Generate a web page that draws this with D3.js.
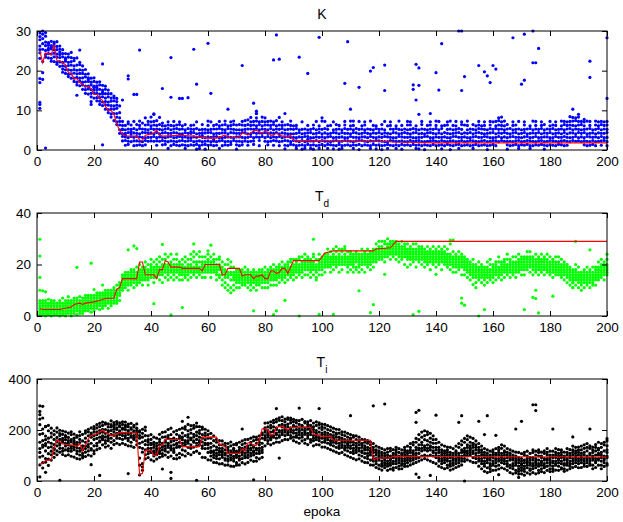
<!DOCTYPE html>
<html>
<head>
<meta charset="utf-8">
<script src="https://cdn.jsdelivr.net/npm/d3@7"></script>
<style>
body { margin: 0; background: #fff; }
text { font-family: "Liberation Sans", Arial, Helvetica, sans-serif; }
</style>
</head>
<body>
<div id="vis"></div>
<script>
// goal: three stacked scatter panels (K, Td, Ti) over 200 epochs, best individual as red line

var epochs = d3.range(1, 201);
var xTicks = [0, 20, 40, 60, 80, 100, 120, 140, 160, 180, 200];
var kTicks = [0, 10, 20, 30];
var tdTicks = [0, 20, 40];
var tiTicks = [0, 200, 400];

// population values per epoch
var kBand = [
[24.5,25.3,28.6,27.8,23.1,26.2,29.5],[26.8,28.1,29.2,30,25.4,22.3],[28.7,29.6,27.2,24.1,26.3,25.1,23.4],[25.2,26.4,24.3,27.1,23.2,25.6,26.9],[26.3,24.2,25.5,27.4,23.1,22.4,25.9],[27.2,26.1,25.3,24.4,22.3,23.5,26.8],[26.1,25.3,24.2,23.4,22.1,27.3,21.6],[25.4,24.1,23.3,22.2,26.2,21.1,24.7],[24.3,23.5,22.1,21.2,25.3,20.4,19.6],[23.2,22.4,24.3,21.1,20.2,19.3,22.8],
[23.4,22.1,21.3,20.2,19.1,24.2,18.5],[22.3,21.4,20.1,19.2,23.3,18.1,24.6],[21.2,20.3,19.4,18.1,22.5,17.3,23.1],[21.4,20.1,18.3,19.2,17.1,23.2,16.4],[20.2,19.3,18.1,17.4,22.1,16.2,21.5],[19.3,18.2,17.1,16.4,21.2,15.3,20.1],[19.1,18.4,17.2,16.1,20.3,15.2,14.3],[18.2,17.3,16.1,15.4,19.2,14.1,17.8],[18.1,16.4,15.2,14.3,17.1,12.2,13.4],[17.3,16.1,15.2,14.4,13.1,18.2,15.8],
[16.2,15.1,14.3,13.2,17.1,12.4,15.7],[16.4,15.3,14.1,13.2,12.3,17.2,11.5],[15.1,14.2,13.4,12.1,16.3,11.2,14.6],[15.3,13.1,12.2,11.4,14.2,10.3,16.1],[14.2,13.4,12.1,11.3,10.2,9.4,15.1],[13.1,12.3,11.2,10.4,9.1,8.3,14.2],[12.4,11.1,10.3,9.2,13.2,7.4,13.6],[11.3,9.2,7.1,6.4,12.2,8.3,10.5],[9.4,7.2,6.3,5.1,4.2,11.1,8.1],[6.2,5.3,4.1,3.4,7.2,2.3,5.1],
[4.2,5.1,3.3,2.4,6.2,3.7,1.2],[3.1,4.4,5.3,2.2,6.6,1.4,7.1],[5.2,4.1,3.4,6.3,2.1,4.6],[4.3,3.2,5.4,2.3,7.2,1.1],[3.4,4.2,2.3,5.1,1.2,6.4],[4.1,3.3,2.2,5.4,1.3,6.2,7.3],[3.2,2.1,4.4,5.3,1.1,6.8],[4.4,5.2,3.1,6.3,2.4,8.1,1.3],[5.1,4.3,3.2,6.4,2.2,7.2],[4.3,5.4,6.1,3.2,2.3,8.3,7.1],
[5.2,4.1,6.3,3.4,7.2,9.1,2.2],[5.3,6.2,4.4,3.1,7.4,2.3,1.2],[4.1,3.3,5.2,6.4,2.2,8.2],[3.2,4.3,5.1,2.4,6.8,1.3,6.1],[4.4,3.1,2.2,5.3,6.1,1.4],[3.3,4.2,2.1,5.4,6.3,0.4,7.1],[4.2,3.4,5.1,2.3,6.2,1.1],[3.1,4.4,2.2,5.3,1.4,6.1,7.2],[4.3,3.2,5.4,2.1,6.3,1.2],[3.4,4.1,5.2,2.3,1.1,6.4,7.1],
[4.1,3.2,2.4,5.3,6.1,1.3],[3.3,4.4,5.1,2.2,6.4,0.4,1.2],[4.2,3.1,2.3,5.4,1.1],[3.1,4.2,5.3,2.4,6.2,1.3,4.6],[4.4,3.3,5.2,2.1,1.2,6.3],[3.2,4.1,2.2,5.4,1.4,7.1,0.2],[3.4,2.3,4.2,5.1,1.1,0.4],[4.3,3.2,2.1,5.2,1.3,6.4,3.6],[3.1,2.2,4.3,1.4,5.2,0.2],[3.3,4.4,2.3,5.1,1.2,6.2,7.3],
[3.2,2.1,4.4,1.3,5.2,7.1],[4.1,3.4,2.2,5.3,1.1,6.2,2.6],[3.4,4.2,2.1,5.3,6.4,1.2],[4.2,3.1,5.4,2.3,6.1,7.2,0.4],[3.1,4.3,5.2,2.4,6.3,1.1],[4.4,5.1,3.2,6.4,2.1,7.3,1.3],[4.1,3.3,5.4,2.2,6.1,1.2],[3.2,4.4,2.1,5.3,6.2,1.4,7.1],[4.3,3.1,5.2,2.4,6.4,7.3],[3.3,4.2,2.2,5.1,1.3,6.3,0.2],
[4.2,3.3,5.1,2.2,6.4,1.1],[5.1,4.4,3.2,6.3,2.1,7.2,1.3],[4.4,5.2,3.1,6.2,2.3,7.4],[4.1,3.2,5.3,6.4,2.1,1.2,7.6],[5.3,4.1,6.2,3.4,7.1,2.2,8.2],[5.2,6.3,4.4,7.2,3.1,2.3,1.4],[5.4,6.1,4.2,7.3,3.3,8.1,9.2],[5.1,4.3,6.4,3.2,7.1,2.4,1.1],[5.3,4.2,6.1,3.4,7.2,8.3],[5.2,4.4,6.3,7.1,3.1,2.2,8.1],
[5.1,4.2,6.3,3.4,7.2,2.1,1.3],[4.3,5.4,3.1,6.2,2.2,7.3],[4.2,5.1,3.3,6.4,7.1,2.4,1.2],[4.4,3.2,5.3,6.1,2.3,7.4],[4.1,5.2,3.4,6.3,2.1,1.1,8.2],[4.3,3.1,5.4,2.2,6.2,7.1],[4.2,3.3,5.1,2.4,6.3,1.2,0.3],[3.4,4.1,5.2,2.3,6.4,1.1],[4.1,3.2,5.3,2.1,1.4,6.2,7.3],[3.2,2.4,4.1,1.3,5.2,6.1],
[3.1,2.3,4.2,1.1,5.4,0.4,6.2],[3.3,2.1,4.4,1.2,5.1],[3.2,2.4,4.1,1.3,5.2,7.1,0.2],[2.1,3.4,4.2,1.1,5.3,0.4],[3.4,2.2,4.3,1.4,5.1,6.2,2.7],[2.3,3.1,1.2,4.4,5.2,0.4],[3.1,2.2,4.1,1.3,5.4,6.3,0.2],[2.4,3.3,4.2,1.1,5.1,7.2],[3.2,2.1,4.4,1.2,5.3,6.1,0.4],[3.3,2.4,4.1,1.4,5.2,7.3,8.1],
[3.1,2.2,4.3,1.1,5.4,7.2],[2.2,3.3,1.4,4.1,5.2,0.4,6.1],[3.4,2.1,4.2,1.3,6.2],[2.3,3.1,4.4,1.2,5.1,0.3,7.1],[3.2,2.4,1.1,4.3,5.2,6.4],[2.1,3.2,4.1,1.4,5.3,6.2,0.2],[3.3,2.2,4.4,1.1,5.1,0.4],[2.4,3.1,1.2,4.2,6.3,5.4,7.2],[3.1,2.3,4.2,1.3,5.2],[2.2,3.4,4.1,1.1,5.3,6.1,7.3],
[3.2,2.1,1.3,4.4,5.1,0.4,6.2],[2.3,3.2,4.3,1.2,5.4],[3.1,2.4,4.1,1.4,5.2,0.1,7.2],[2.4,3.3,1.1,4.2,6.1,5.3],[3.3,2.2,4.4,1.3,5.1,7.1,6.3],[2.1,3.1,4.2,5.3,1.2],[3.4,2.3,4.1,1.1,5.2,7.3,0.4],[2.2,3.2,1.4,4.3,5.1,6.2],[3.1,2.4,4.2,1.2,5.4,0.3,6.1],[2.3,3.3,4.4,1.3,5.2],
[3.2,2.2,4.1,1.1,5.3,6.4,0.1],[2.1,3.4,1.2,4.3,5.1,7.2],[3.3,2.1,4.2,1.4,6.1,0.4],[2.4,3.2,4.1,1.2,5.3,6.2,7.1],[3.1,2.3,1.1,4.4,5.2],[2.2,3.1,4.3,1.3,5.4,6.1,0.4],[3.4,2.2,4.1,1.1,5.2,7.3],[2.3,3.3,1.4,4.2,6.2,5.1,0.2],[3.2,2.1,4.4,1.2,5.3],[2.1,3.2,4.2,1.3,6.3,7.2,5.1],
[3.3,2.4,4.1,1.1,5.2,6.3,7.1],[2.2,3.1,4.3,1.4,5.4],[3.1,2.3,4.4,1.2,6.1,5.2,0.4],[2.4,3.2,1.3,4.1,5.1,0.3],[3.2,2.1,4.2,1.1,5.3,6.4,7.2],[2.1,3.4,4.1,1.3,5.2,0.1],[3.4,2.2,1.2,4.3,5.1,6.2],[2.3,3.1,4.4,1.1,5.3,7.1,6.3],[3.1,2.4,4.2,1.4,5.2],[2.2,3.3,1.1,4.1,6.2,5.4,7.3],
[3.2,2.1,4.3,1.2,5.1,7.2],[2.4,3.2,4.1,1.3,5.4,6.1,0.3],[3.3,2.2,4.4,1.1,6.2],[2.1,3.1,1.4,4.2,5.2,6.3,7.1],[3.1,2.3,4.1,1.2,5.3,7.3,0.1],[2.3,3.4,4.2,1.1,5.1,6.2],[3.4,2.1,1.3,4.3,6.1,5.2,7.2],[2.2,3.2,4.4,1.4,5.4,0.4],[3.2,2.4,4.1,1.1,5.2,6.4,7.1],[2.1,3.3,4.3,1.2,6.3],
[3.1,2.2,4.2,1.3,5.1,6.2,7.3],[2.4,3.1,1.1,4.4,5.3],[3.3,2.3,4.1,1.2,6.4,5.2,0.4],[2.2,3.4,4.3,1.4,5.1,6.1],[3.2,2.1,4.4,1.1,5.4,7.2,6.3],[2.3,3.2,1.2,4.2,6.1,5.3],[3.4,2.4,4.1,1.3,5.2,6.2,7.1],[2.1,3.3,4.2,1.1,5.1,0.1],[3.1,2.2,4.3,5.4,1.2,6.3,7.2],[2.4,3.1,4.4,1.4,5.2,7.1],
[3.2,4.1,2.3,5.4,1.1,7.2,6.1],[3.4,4.3,5.2,2.1,6.3,8.1,7.4],[4.2,3.1,5.3,2.4,6.2,8.3,7.1],[3.3,4.4,5.1,2.2,6.1,7.3],[3.1,2.2,4.2,1.3,5.3,6.4,0.2],[2.2,3.3,4.1,1.1,5.4],[3.4,2.1,4.3,1.2,5.1,6.2,7.1],[2.3,3.2,1.4,4.4,5.2,6.3],[3.2,2.4,4.1,1.1,5.3,7.2,0.4],[2.1,3.1,4.2,1.3,5.1],
[3.3,2.2,4.4,1.2,5.2,7.1,6.3],[2.4,3.4,4.1,1.4,5.3],[3.1,2.3,1.1,4.2,5.4,6.1,0.4],[2.2,3.2,4.3,1.1,5.1,7.3],[3.4,2.1,4.2,1.3,6.2,5.3,7.2],[2.3,3.1,4.4,1.2,5.2],[3.2,2.4,4.1,1.4,5.4,7.1,6.2],[2.1,3.3,1.2,4.3,5.1,6.4,0.2],[3.3,2.2,4.2,1.1,5.3],[2.4,3.1,4.4,1.3,5.2,7.2,6.1],
[3.1,2.3,4.1,1.2,5.4,6.3],[2.2,3.4,4.2,1.1,5.1,7.1,6.2],[3.2,2.1,1.4,4.3,5.2],[2.3,3.2,4.1,1.3,5.3,6.1,7.3],[3.4,2.4,4.4,1.1,5.1,7.2,6.4],[3.2,4.1,2.2,5.3,1.2,6.2,7.1],[3.1,4.3,5.4,2.1,6.3,7.2],[4.3,3.2,5.1,2.4,6.2,8.2,7.3],[4.1,5.3,3.4,6.1,2.2,7.4,8.1],[4.4,3.1,5.2,6.3,2.3,8.3,7.2],
[3.3,4.2,5.1,2.1,6.4,7.2],[3.1,4.4,2.3,5.2,1.3,6.1,7.1],[3.4,2.2,4.1,5.3,1.1,7.3],[2.1,3.3,4.2,1.2,5.4,6.2,7.2],[3.2,2.4,4.3,1.4,5.1],[3.3,4.1,2.1,5.2,1.1,6.3,7.3],[3.1,4.3,5.4,2.2,6.1,7.1],[3.4,2.3,4.2,5.1,1.2,6.4,7.2],[4.2,3.1,5.3,2.4,6.2,7.1],[3.2,4.4,5.2,2.1,6.3,1.1,7.2]
];
var kExtra = [[1,10.5],[1,11.5],[1,12],[1,17],[1,18],[2,19.5],[2,17.8],[3,0.5],[14,13.8],[15,25.2],[19,11.5],[23,21.7],[23,1.3],[28,13],[30,12.6],[32,18.7],[32,17.9],[34,14],[35,14],[36,25.2],[41,9],[44,15.5],[47,23.3],[47,13.3],[50,13],[51,13],[53,13.2],[55,25.4],[56,16.6],[60,26.9],[61,14.3],[67,10.3],[72,21.3],[76,11.8],[77,9.8],[77,9.2],[83,22.7],[84,29],[85,22.9],[87,9.2],[92,23.4],[95,19.3],[99,28.4],[108,16.8],[109,27.3],[110,10.3],[111,7.3],[113,15.8],[117,19.9],[118,20.8],[122,21.4],[122,15],[132,16.4],[132,15.3],[133,21.6],[133,12.6],[134,20.7],[134,16.3],[134,9],[138,9.2],[140,19.5],[141,15.1],[142,26.8],[148,30],[149,30],[149,15],[150,18.5],[155,21.3],[157,19.7],[158,18.7],[159,17],[160,21.3],[161,20.4],[167,28.3],[170,16.6],[171,17.6],[171,29.2],[174,30],[174,22],[175,22],[176,25.6],[187,8.4],[188,10.3],[190,9],[192,7.7],[194,22.4],[194,18.3],[200,28.3],[200,13]];
var kBest = [[1,25],[2,22],[3,24.5],[4,24.3],[5,24],[6,26.5],[7,22.5],[8,22.5],[9,22],[10,21.5],[11,19.5],[12,19.3],[13,18],[14,18],[15,17],[16,16.5],[17,16],[18,16],[19,15.5],[20,14],[21,14],[22,13],[23,12.5],[24,11],[25,10],[26,10],[27,9],[28,6.5],[29,5],[30,4],[31,3.6],[35,3.5],[36,2.5],[37,2.4],[38,3.7],[40,4],[41,4.3],[42,5],[43,3.8],[44,3.5],[50,3.7],[55,3.5],[60,3],[63,3],[65,3.5],[66,3.8],[67,3.2],[71,3.2],[72,4.3],[74,3.8],[76,4.8],[77,5],[78,4.5],[79,4.3],[80,4.7],[81,4.5],[82,3.7],[83,3.8],[84,4.2],[85,3.8],[86,3.5],[87,3.5],[88,3.3],[89,3.7],[90,2.5],[91,2.3],[99,2.3],[100,2.4],[101,2.5],[102,2.3],[120,2.2],[125,2],[140,1.8],[200,1.8]];

var tdBand = [
[3,5,2,1,4,6,0.5],[2,4,3,1,5,0.5,6],[3,1,4,2,5,6,0],[2,3,4,1,5,0.5,6.5],[4,2,3,1,5,6,0],[3,2,4,1,5,0.5,6],[2,3,1,4,5,0.5],[3,2,4,1,5,6,0],[2,4,3,1,5,0.5,7],[3,4,2,1,5,6,0],
[3,4,2,5,1,6,7.5],[4,3,5,2,6,1,0],[4,3,5,2,6,7,1],[4,5,3,6,2,7,0.5],[5,4,3,6,2,1,7.5],[5,4,6,3,7,2,1],[5,4,6,3,7,8,2],[5,6,4,7,3,2,8],[6,5,4,7,3,8,1.5],[6,5,7,4,8,3,2],
[6,5,7,4,8,3,9],[6,7,5,8,4,9,2.5],[7,6,5,8,4,9,3],[7,6,8,5,9,4,10],[7,8,6,9,5,3,10],[8,7,6,9,5,10,4],[8,7,9,6,10,5,11],[9,8,10,7,12,6,5],[11,10,12,9,13,8,6],[13,12,14,11,15,10,16],
[14,13,15,12,16,11,17],[14,15,13,16,12,17,10],[15,14,16,13,17,12,18],[15,14,16,13,17,18,11],[15,16,14,17,13,12,19],[16,15,17,14,18,13,20],[16,17,15,18,14,19,12],[17,16,18,15,19,14,21],[17,16,18,15,20,14,12],[17,18,16,19,15,20,22],
[17,18,16,19,15,21,13],[18,17,19,16,20,15,22],[18,17,19,16,21,14,23],[18,19,17,20,16,22,13],[19,18,20,17,22,15,24],[19,18,20,17,23,16,14],[19,20,18,21,17,24,15],[19,18,20,17,22,16,14],[19,18,20,17,22,15,24],[18,19,17,20,16,21,14],
[18,19,17,20,16,22,14],[18,17,19,16,21,15,23],[19,18,20,17,22,16,14],[19,20,18,22,17,24,15],[19,18,21,17,23,16,25],[20,19,21,18,24,17,15],[19,18,21,17,23,16,25],[19,20,18,21,17,15,23],[20,19,21,18,23,17,15],[20,19,21,18,22,17,24],
[19,20,18,21,17,23,15],[20,19,21,18,22,17,24],[19,18,20,17,22,16,14],[19,18,20,16,22,15,23],[18,17,16,19,14,21,12],[17,16,18,15,20,13,11],[16,15,17,12,20,10,22],[16,14,17,11,19,9,21],[16,15,17,14,19,12,10],[16,15,17,14,18,13,11],
[16,15,17,14,18,13,11],[15,16,14,17,13,18,12],[15,14,16,13,17,12,19],[15,16,14,17,13,18,11],[15,14,16,13,17,12,10],[15,16,14,17,13,11,18],[14,15,13,16,12,17,10],[15,14,16,13,17,12,18],[15,16,14,17,13,18,11],[15,14,16,13,17,11,19],
[16,15,17,14,18,13,11],[16,17,15,18,14,19,12],[16,15,17,14,18,12,20],[17,16,18,15,19,14,12],[17,18,16,19,15,20,13],[17,16,18,15,19,14,21],[18,17,19,16,20,15,13],[18,19,17,20,16,21,14],[18,17,19,16,21,15,22],[19,18,20,17,22,16,14],
[19,20,18,21,17,22,15],[19,18,20,17,22,16,23],[20,19,21,18,23,17,15],[20,19,21,18,22,16,24],[20,21,19,22,18,23,16],[19,20,18,21,17,22,15],[20,19,21,18,23,16,24],[19,18,20,17,22,15,14],[19,20,18,21,16,22,24],[21,20,22,19,23,18,16],
[21,22,20,23,19,24,17],[22,21,23,20,24,19,26],[22,21,23,20,25,19,17],[22,23,21,24,20,26,18],[22,21,23,20,25,19,27],[22,23,21,24,20,26,17],[22,21,23,20,26,18,25],[23,22,24,21,26,20,27],[22,21,23,20,25,19,17],[22,23,21,24,20,25,18],
[22,21,23,20,24,19,17],[22,21,23,19,24,18,25],[21,22,20,23,19,24,17],[22,21,23,20,24,18,26],[22,23,21,24,20,25,17],[22,21,23,20,24,19,26],[23,22,24,21,25,20,18],[23,24,22,25,21,26,19],[24,23,25,22,26,21,28],[24,25,23,26,22,27,29],
[25,24,26,23,27,22,29],[25,26,24,28,23,29,21],[26,25,27,24,28,23,30],[26,27,25,28,24,29,22],[26,25,27,24,28,23,29],[26,27,25,28,24,29,22],[25,26,24,27,23,28,21],[25,24,26,23,27,22,29],[25,26,24,27,23,28,20],[25,24,26,23,28,22,19],
[24,25,23,26,22,27,20],[24,23,25,22,26,21,28],[24,25,23,26,22,28,19],[24,23,25,22,26,21,27],[24,25,23,26,22,27,20],[23,24,22,25,21,26,19],[23,22,24,21,25,20,27],[23,24,22,25,21,26,18],[23,22,24,21,25,20,27],[23,24,22,25,21,26,19],
[23,22,24,21,25,20,27],[23,24,22,25,21,26,18],[22,23,21,24,20,25,27],[22,21,23,20,24,19,26],[22,23,21,24,20,28,18],[22,21,23,20,25,19,17],[21,22,20,23,19,24,17],[21,20,22,19,23,18,25],[21,22,20,23,19,24,16],[20,21,19,22,18,23,16],
[19,20,18,21,17,22,15],[18,19,17,20,16,21,14],[18,17,19,16,20,15,22],[17,18,16,19,15,20,13],[17,16,18,15,19,14,21],[17,18,16,19,15,20,13],[17,16,18,15,19,14,12],[17,18,16,19,15,21,13],[17,16,18,15,20,14,22],[18,17,19,16,20,15,13],
[18,19,17,20,16,21,14],[18,17,19,16,21,15,23],[19,18,20,17,21,16,14],[19,20,18,21,17,22,15],[19,18,20,17,22,16,24],[19,20,18,21,17,22,15],[19,18,20,17,21,16,23],[19,20,18,21,17,23,15],[20,19,21,18,22,17,24],[20,21,19,22,18,23,16],
[20,21,19,22,18,23,16],[21,20,22,19,23,18,25],[21,20,22,19,23,17,25],[20,21,19,22,18,23,16],[20,19,21,18,22,17,24],[20,21,19,22,18,23,16],[20,19,21,18,22,17,24],[20,21,19,22,18,23,16],[19,20,18,21,17,22,24],[19,18,20,17,21,16,23],
[19,20,18,21,17,22,15],[19,18,20,17,21,16,23],[18,19,17,20,16,21,23],[18,17,19,16,20,15,22],[18,19,17,20,16,21,14],[17,18,16,19,15,20,13],[16,17,15,18,14,19,12],[16,15,17,14,18,13,11],[16,17,15,18,14,20,12],[15,16,14,17,13,19,11],
[15,14,16,13,17,12,10],[15,16,14,17,13,18,11],[15,14,16,13,17,12,19],[15,16,14,17,13,18,11],[15,14,16,13,17,12,19],[16,17,15,18,14,19,12],[17,16,18,15,19,14,21],[18,17,19,16,20,15,22],[18,19,17,20,16,21,14],[19,18,20,17,22,16,24]
];
var tdExtra = [[1,29.8],[1,23.3],[1,15],[1,10],[2,9.8],[3,9.4],[14,18.9],[19,20.5],[20,10.3],[23,12],[32,25.7],[34,27.2],[35,26.2],[41,4.8],[44,27.8],[47,0.4],[51,3.3],[55,28],[60,25.3],[61,27.5],[76,2],[83,0.5],[84,2],[87,6.1],[92,0],[97,29.8],[99,0.6],[104,0.6],[113,9.8],[117,1.3],[118,4.4],[122,16.2],[132,0.5],[134,1.8],[140,16.2],[145,29.5],[146,29.5],[149,7],[149,5],[150,4.2],[153,12.2],[154,11],[155,0],[157,2.5],[171,2.5],[174,7.2],[175,6.8],[175,10],[176,1.2],[181,7.7],[188,11],[188,12.9],[189,29],[194,25.7]];
var tdBest = [[1,2.8],[2,2.5],[8,2.5],[10,3],[12,3.5],[13,4.5],[15,5],[16,4.5],[17,5],[20,5.5],[22,6],[24,6.8],[27,7],[28,10.5],[29,11],[30,14.5],[35,14.5],[36,21],[37,21],[38,16],[41,16],[42,14.5],[43,18],[44,18],[45,21.5],[46,21],[47,19],[50,19],[51,18.5],[57,18.5],[58,17.5],[59,20],[64,20],[65,16],[66,16],[67,18.5],[71,18.5],[72,15.5],[73,16],[75,16],[76,14.5],[77,15.5],[78,15.5],[79,16],[80,14.5],[81,14.5],[82,17.5],[83,17.5],[84,16.5],[85,17],[86,18.5],[87,18.5],[88,16.5],[89,19],[90,21.5],[99,21.5],[101,24.5],[104,25.3],[118,25.3],[119,26],[124,26.5],[126,29],[200,29]];

var tiBand = [
[183,127,221,94,152,63,243,112],[204,158,133,247,98,72,186,141],[213,147,118,176,88,139,74,162],[168,131,107,197,86,153,61,218],[148,117,173,103,188,134,82,207],[163,128,182,109,197,143,93,124],[171,138,153,118,192,157,208,103],[178,147,163,128,186,141,113,199],[167,152,128,183,117,158,196,104],[162,137,178,122,148,173,99,193],
[158,142,127,171,118,188,103,149],[153,136,162,117,182,128,97,193],[148,133,158,123,168,141,94,184],[143,118,152,107,172,131,88,178],[151,128,163,117,178,102,193,86],[138,122,157,108,183,127,91,99],[152,127,168,113,188,137,96,197],[157,143,177,118,193,102,203,133],[172,148,183,127,188,122,208,98],[177,163,192,138,203,118,213,107],
[182,167,193,148,208,138,123,221],[188,172,198,153,213,157,128,226],[192,177,203,162,218,168,142,231],[187,173,202,158,223,148,133,228],[193,178,198,167,212,158,138,224],[198,183,212,168,221,152,128,236],[192,203,178,213,158,218,143,229],[202,187,208,177,223,168,148,233],[197,192,213,182,228,167,143,217],[203,188,207,178,222,163,148,232],
[188,202,177,212,168,218,143,231],[192,183,198,167,213,158,138,223],[188,177,203,172,208,152,137,226],[193,178,197,168,212,163,132,218],[182,188,173,198,157,207,142,224],[178,168,192,148,62,24,197,132],[172,153,187,128,68,42,203,113],[158,143,178,122,198,103,87,211],[142,128,153,118,162,107,92,177],[128,143,117,148,112,163,83,182],
[132,118,143,108,152,98,78,172],[127,122,138,113,148,103,86,168],[142,128,153,117,163,108,93,183],[138,133,148,122,172,107,97,191],[152,138,158,127,173,118,102,193],[148,142,168,132,178,113,93,202],[153,138,163,128,182,122,98,207],[142,127,158,118,168,112,88,193],[148,143,162,132,183,102,87,198],[152,137,168,133,177,108,92,203],
[162,148,172,138,188,122,103,207],[158,152,178,143,203,118,98,213],[172,158,182,148,197,132,108,222],[168,162,188,142,202,128,103,217],[173,157,183,152,207,133,112,218],[178,163,192,148,213,137,117,227],[172,158,187,152,198,142,108,213],[168,153,182,138,203,128,93,211],[162,148,178,143,188,127,92,203],[148,142,168,128,182,112,83,197],
[132,118,148,112,168,98,82,187],[118,112,138,102,158,92,73,177],[122,108,133,98,152,88,72,163],[118,113,128,103,142,87,67,158],[112,118,102,128,93,142,68,157],[108,102,122,88,138,82,62,148],[112,98,123,87,132,78,63,147],[108,103,118,92,138,83,58,153],[112,97,122,88,128,78,57,143],[108,102,117,93,142,72,62,148],
[112,98,123,88,132,82,63,152],[118,112,128,102,143,88,72,157],[122,108,133,97,148,92,67,162],[118,113,128,102,138,92,73,163],[128,122,142,108,152,98,82,168],[132,118,138,112,158,102,77,173],[128,122,148,108,162,92,78,172],[142,128,152,118,163,108,87,177],[148,132,168,122,182,112,93,188],[192,178,202,168,208,162,138,227],
[188,182,198,172,212,158,147,228],[192,178,208,168,218,162,142,232],[198,192,212,178,228,172,148,238],[202,188,208,182,232,168,153,243],[198,192,218,178,238,172,152,248],[212,198,222,188,237,182,158,252],[208,202,218,192,232,178,163,243],[212,198,223,188,242,182,162,248],[208,202,228,192,238,178,168,247],[212,198,218,188,232,172,158,242],
[202,188,212,178,228,172,153,238],[198,192,208,182,222,168,148,237],[202,188,213,178,218,172,157,242],[198,192,208,183,228,162,148,233],[203,187,212,178,222,168,143,232],[198,192,207,182,218,162,152,237],[192,178,202,168,212,158,138,227],[188,182,198,172,218,162,143,232],[192,177,208,168,222,158,142,228],[188,182,202,168,212,152,133,223],
[182,168,192,158,208,152,133,222],[178,172,188,162,202,148,128,217],[172,158,182,148,198,142,123,212],[168,162,178,152,192,138,118,207],[172,158,183,148,188,132,113,203],[162,148,172,138,188,128,108,202],[158,152,168,142,182,132,112,193],[152,138,162,128,178,122,103,192],[148,142,158,132,172,118,98,187],[152,138,162,128,168,112,93,182],
[142,128,152,118,172,108,88,178],[138,132,148,122,162,112,83,177],[142,128,153,118,158,102,87,172],[132,118,142,112,148,98,78,163],[128,122,138,108,152,92,73,162],[122,108,132,98,148,88,72,158],[118,112,128,102,142,82,63,153],[112,98,122,88,132,78,62,147],[102,88,112,78,122,68,53,137],[98,92,108,82,118,62,48,132],
[92,78,102,68,112,58,43,127],[88,82,98,72,108,62,52,122],[92,78,102,68,113,58,42,127],[88,82,98,72,118,62,47,128],[92,77,102,68,108,52,43,123],[88,102,78,112,68,122,53,132],[92,82,98,72,112,58,47,127],[88,78,102,68,108,62,48,122],[102,88,112,78,122,68,57,132],[98,92,108,82,118,72,58,137],
[112,98,122,88,132,78,63,147],[108,102,118,92,142,82,68,152],[122,108,132,98,152,88,73,167],[128,122,142,108,162,92,78,182],[142,128,152,118,172,98,83,192],[138,132,162,122,178,102,88,197],[142,128,158,118,182,98,83,193],[138,132,152,122,168,102,78,187],[132,118,148,112,162,98,73,177],[122,108,132,98,148,92,68,163],
[112,98,122,88,132,78,58,152],[102,88,112,78,122,68,53,142],[98,92,108,82,118,72,48,137],[102,88,112,78,122,62,52,133],[92,78,102,68,112,58,43,132],[88,82,98,72,108,62,47,127],[102,88,112,78,118,68,53,137],[98,92,108,82,132,72,58,147],[112,98,122,88,142,78,63,157],[118,112,128,102,152,88,77,167],
[132,118,142,108,162,98,83,177],[128,122,138,112,152,102,78,172],[132,118,142,108,148,92,73,167],[122,108,132,98,142,88,72,157],[112,98,122,88,132,78,58,147],[102,88,112,78,122,68,48,137],[92,78,102,68,112,58,38,127],[88,82,98,72,108,52,33,122],[82,68,92,58,102,48,37,117],[92,78,102,68,112,62,42,122],
[88,82,102,72,108,58,43,127],[102,88,112,78,122,62,47,132],[98,92,108,82,128,72,52,142],[102,88,112,78,118,68,48,137],[92,78,102,68,112,58,42,127],[88,82,98,62,108,52,33,122],[82,68,92,58,102,48,28,117],[78,72,88,62,98,42,32,113],[72,58,82,48,92,38,27,112],[68,62,78,52,88,42,28,107],
[72,58,82,48,102,38,23,112],[78,72,88,62,98,52,32,117],[72,62,82,48,92,42,27,108],[82,68,92,58,112,48,33,122],[78,72,88,62,102,52,28,117],[82,68,98,58,112,42,32,122],[78,72,92,62,98,48,37,113],[82,68,88,58,108,52,33,118],[88,82,102,72,112,58,42,127],[82,72,92,62,102,48,37,117],
[78,72,92,58,102,48,38,117],[92,78,102,68,112,62,43,127],[88,82,98,72,108,58,42,123],[92,78,102,68,112,52,47,122],[82,68,92,62,98,48,38,113],[88,82,102,72,112,62,43,127],[92,78,98,68,108,58,48,123],[102,88,112,78,122,68,53,137],[98,92,108,82,118,72,57,132],[102,88,112,78,122,68,52,133],
[98,92,108,82,122,72,53,137],[102,88,112,78,128,68,58,142],[98,92,118,82,132,72,57,147],[102,88,108,78,128,68,62,138],[98,92,112,82,122,62,48,133],[102,88,118,78,132,72,53,143],[108,102,122,88,128,82,62,152],[102,92,112,78,132,62,48,147],[98,88,118,82,142,72,57,152],[112,98,122,92,138,68,62,157]
];
var tiExtra = [[1,295],[2,293],[1,273],[1,260],[3,214],[2,51],[1,16],[3,34],[8,3],[19,64],[22,22],[32,29],[36,90],[37,55],[44,47],[47,34],[47,10],[51,234],[53,250],[56,3],[72,204],[76,5],[84,284],[85,90],[92,286],[99,284],[110,256],[118,295],[122,302],[133,230],[133,269],[134,277],[133,27],[134,14],[138,22],[140,258],[148,230],[149,256],[150,0],[155,234],[157,182],[158,256],[161,179],[162,25],[168,204],[169,14],[170,234],[174,299],[175,299],[175,276],[181,204],[188,173],[194,204],[200,166]];
var tiBest = [[1,65],[2,70],[3,80],[5,83],[6,130],[7,160],[8,155],[9,145],[13,140],[14,135],[15,145],[16,120],[17,140],[18,165],[19,178],[21,185],[23,200],[24,190],[26,180],[27,175],[28,185],[29,190],[35,188],[36,25],[37,30],[38,120],[40,120],[41,100],[42,100],[43,138],[44,140],[45,163],[50,163],[51,135],[57,135],[58,172],[63,172],[64,145],[65,140],[66,135],[67,108],[71,108],[72,125],[73,118],[74,150],[75,150],[76,138],[77,140],[78,160],[79,205],[80,205],[81,200],[82,180],[83,182],[84,210],[86,215],[88,200],[89,210],[96,210],[97,184],[100,175],[103,175],[104,160],[117,160],[118,84],[120,90],[124,90],[125,97],[200,94]];

svg = d3.select('#vis').append('svg')
        .attr('width', 623)
        .attr('height', 522);

x = d3.scaleLinear().domain([0, 200]).range([37, 607]);

makePanel = function(band, extra, best, yTicks, top, bottom, color, title, sub) {
	var y = d3.scaleLinear().domain([0, yTicks[yTicks.length - 1]]).range([bottom, top]);
	var g = svg.append('g');

	// all individuals of the population
	var pts = [];
	band.forEach(function(vals, i) {
		vals.forEach(function(v) { pts.push([epochs[i], v]); });
	});
	extra.forEach(function(p) { pts.push(p); });

	g.append('g').selectAll('circle').data(pts).join('circle')
		.attr('cx', d => x(d[0]))
		.attr('cy', d => y(d[1]))
		.attr('r', 1.6)
		.attr('fill', color);

	// best one
	g.append('path').datum(best)
		.attr('d', d3.line().x(d => x(d[0])).y(d => y(d[1])))
		.attr('fill', 'none')
		.attr('stroke', '#ff0000')
		.attr('stroke-width', 1.1);

	// box with inward ticks, like matlab
	var axes = [
		[d3.axisBottom(x).tickValues(xTicks), 'translate(0,' + bottom + ')', true],
		[d3.axisTop(x).tickValues(xTicks), 'translate(0,' + top + ')', false],
		[d3.axisLeft(y).tickValues(yTicks), 'translate(37,0)', true],
		[d3.axisRight(y).tickValues(yTicks), 'translate(607,0)', false]
	];
	axes.forEach(function(a) {
		a[0].tickSizeInner(-5).tickSizeOuter(0).tickPadding(a[2] ? 6 : 0);
		if (!a[2]) a[0].tickFormat('');
		var ag = g.append('g').attr('transform', a[1]).call(a[0]);
		ag.select('.domain').remove();
		ag.selectAll('line').attr('stroke', '#000');
		ag.selectAll('text').attr('fill', '#000').style('font-size', '13.5px');
	});

	g.append('rect')
		.attr('x', 37).attr('y', top)
		.attr('width', 570).attr('height', bottom - top)
		.attr('fill', 'none')
		.attr('stroke', '#000')
		.attr('stroke-width', 1);

	var t = svg.append('text')
		.attr('x', 322)
		.attr('y', top - 12)
		.attr('text-anchor', 'middle')
		.style('font-size', '14px')
		.attr('fill', '#000');
	t.append('tspan').text(title);
	if (sub) t.append('tspan').attr('dy', 6).style('font-size', '10px').text(sub);
}

makePanel(kBand, kExtra, kBest, kTicks, 31, 150, '#0000ff', 'K', null);
makePanel(tdBand, tdExtra, tdBest, tdTicks, 213, 316, '#00ff00', 'T', 'd');
makePanel(tiBand, tiExtra, tiBest, tiTicks, 379, 481, '#000000', 'T', 'i');

svg.append('text')
	.attr('x', 322)
	.attr('y', 516)
	.attr('text-anchor', 'middle')
	.style('font-size', '13.5px')
	.attr('fill', '#000')
	.text('epoka');
</script>
</body>
</html>
